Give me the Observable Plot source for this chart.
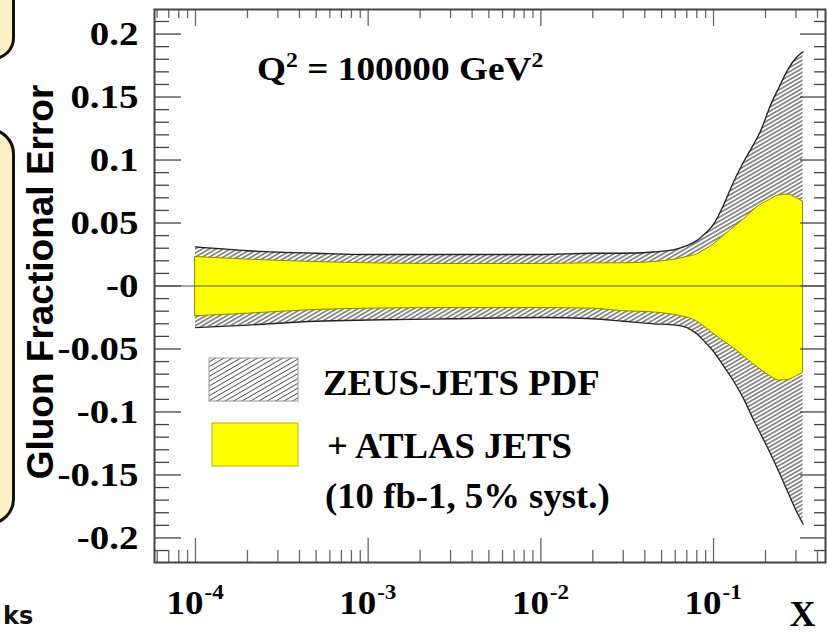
<!DOCTYPE html>
<html><head><meta charset="utf-8">
<script src="https://cdn.jsdelivr.net/npm/d3@7"></script>
<script src="https://cdn.jsdelivr.net/npm/@observablehq/plot@0.6"></script>
<style>
body{margin:0;background:#fff;}
#wrap{position:relative;width:827px;height:634px;overflow:hidden;background:#fff;}
.deco{position:absolute;background:#fcefc4;border:3px solid #111;box-sizing:border-box;}
#chart, #overlay{position:absolute;left:0;top:0;}
</style></head>
<body>
<svg width="0" height="0" style="position:absolute">
  <defs>
    <pattern id="hatch" patternUnits="userSpaceOnUse" width="8" height="3.5" patternTransform="rotate(-30)">
      <rect width="8" height="3.5" fill="#fff"/>
      <line x1="0" y1="1.75" x2="8" y2="1.75" stroke="#2a2a2a" stroke-width="1"/>
    </pattern>
    <pattern id="hatchLegend" patternUnits="userSpaceOnUse" width="8" height="4.2" patternTransform="rotate(-30)">
      <rect width="8" height="4.2" fill="#fff"/>
      <line x1="0" y1="2.1" x2="8" y2="2.1" stroke="#555" stroke-width="1"/>
    </pattern>
  </defs>
</svg>
<div id="wrap">
  <div class="deco" style="left:-30px;top:-30px;width:45px;height:90px;border-radius:0 0 22px 0;"></div>
  <div class="deco" style="left:-30px;top:128px;width:45px;height:397px;border-radius:0 26px 26px 0;"></div>
  <div id="chart"></div>
  <svg id="overlay" width="827" height="634"></svg>
</div>
<script>
// ---- data ----
const xGrid   = [1e-4, 2e-4, 5e-4, 1e-3, 3e-3, 1e-2, 0.02, 0.03, 0.045, 0.06, 0.07, 0.08, 0.09, 0.1, 0.115, 0.13, 0.15, 0.17, 0.19, 0.21, 0.24, 0.27, 0.3, 0.33];
const zeusHi  = [0.031, 0.028, 0.026, 0.025, 0.025, 0.025, 0.026, 0.026, 0.027, 0.029, 0.032, 0.036, 0.042, 0.049, 0.065, 0.082, 0.099, 0.112, 0.125, 0.141, 0.158, 0.172, 0.181, 0.186];
const zeusLo  = [-0.033, -0.031, -0.028, -0.027, -0.026, -0.025, -0.026, -0.028, -0.030, -0.031, -0.033, -0.038, -0.045, -0.052, -0.064, -0.075, -0.090, -0.106, -0.119, -0.131, -0.148, -0.164, -0.178, -0.189];
const atlasHi = [0.023, 0.021, 0.019, 0.018, 0.0175, 0.0175, 0.018, 0.018, 0.019, 0.021, 0.023, 0.025, 0.029, 0.033, 0.040, 0.046, 0.053, 0.060, 0.065, 0.068, 0.072, 0.0725, 0.070, 0.067];
const atlasLo = [-0.024, -0.022, -0.019, -0.018, -0.0175, -0.0175, -0.018, -0.020, -0.021, -0.023, -0.025, -0.028, -0.033, -0.038, -0.044, -0.049, -0.056, -0.062, -0.067, -0.071, -0.075, -0.0745, -0.072, -0.069];
const yTicks = [-0.2, -0.15, -0.1, -0.05, 0, 0.05, 0.1, 0.15, 0.2];
const yTickLabels = ["-0.2", "-0.15", "-0.1", "-0.05", "-0", "0.05", "0.1", "0.15", "0.2"];
const xTicks = [1e-4, 1e-3, 1e-2, 1e-1];
const xTickBase = ["10", "10", "10", "10"];
const xTickExponents = ["-4", "-3", "-2", "-1"];
const yLabel = "Gluon Fractional Error";
const xLabel = "X";
const legendLabels = ["ZEUS-JETS PDF", "+ ATLAS JETS", "(10 fb-1, 5% syst.)"];

// ---- layout ----
const W = 827, H = 634, mL = 154, mR = 2, mT = 9, mB = 72;
const fw = W - mL - mR, fh = H - mT - mB;
const xDomain = [5.79e-5, 0.445];
const yDomain = [-0.2195, 0.2195];

const rows = xGrid.map((x, i) => ({x, zh: zeusHi[i], zl: zeusLo[i], ah: atlasHi[i], al: atlasLo[i]}));
const yMinor = d3.range(-21, 22).filter(k => k % 5 !== 0).map(k => k / 100);
const xMinor = [];
for (let e = -5; e <= -1; e++) for (let m = 2; m <= 9; m++) {
  const v = m * Math.pow(10, e);
  if (v > xDomain[0] && v < xDomain[1]) xMinor.push(v);
}
const tickStroke = "#444";
const serif = "Liberation Serif, Times New Roman, serif";

const chart = Plot.plot({
  width: W, height: H,
  marginLeft: mL, marginRight: mR, marginTop: mT, marginBottom: mB,
  x: {type: "log", domain: xDomain, axis: null},
  y: {domain: yDomain, axis: null},
  style: {background: "transparent", overflow: "visible"},
  marks: [
    Plot.areaY(rows, {x: "x", y1: "zl", y2: "zh", fill: "url(#hatch)", curve: "monotone-x"}),
    Plot.lineY(rows, {x: "x", y: "zh", stroke: "#222", strokeWidth: 1.3, curve: "monotone-x"}),
    Plot.lineY(rows, {x: "x", y: "zl", stroke: "#222", strokeWidth: 1.3, curve: "monotone-x"}),
    Plot.areaY(rows, {x: "x", y1: "al", y2: "ah", fill: "#ffff00", stroke: "#8a8a00", strokeWidth: 1, curve: "monotone-x"}),
    Plot.ruleY([0], {stroke: "#555", strokeWidth: 1}),
    // left ticks
    Plot.tickY(yTicks, {y: d => d, insetRight: fw - 27, stroke: tickStroke, strokeWidth: 1.3}),
    Plot.tickY(yMinor, {y: d => d, insetRight: fw - 15, stroke: tickStroke, strokeWidth: 1.3}),
    // right ticks
    Plot.tickY(yTicks, {y: d => d, insetLeft: fw - 25, stroke: tickStroke, strokeWidth: 1.3}),
    Plot.tickY(yMinor, {y: d => d, insetLeft: fw - 11, stroke: tickStroke, strokeWidth: 1.3}),
    // bottom ticks
    Plot.tickX(xTicks, {x: d => d, insetTop: fh - 24, stroke: "#666", strokeWidth: 1.3}),
    Plot.tickX(xMinor, {x: d => d, insetTop: fh - 12, stroke: "#666", strokeWidth: 1.3}),
    // top ticks
    Plot.tickX(xTicks, {x: d => d, insetBottom: fh - 17, stroke: "#666", strokeWidth: 1.3}),
    Plot.tickX(xMinor, {x: d => d, insetBottom: fh - 9, stroke: "#666", strokeWidth: 1.3}),
    Plot.frame({stroke: "#444", strokeWidth: 2}),
    // tick labels
    Plot.text(yTicks, {y: d => d, text: (d, i) => yTickLabels[i], frameAnchor: "left", dx: -16, textAnchor: "end",
      lineAnchor: "middle", fontSize: 33, fontFamily: serif, fontWeight: "bold", fill: "#000", ariaDescription: "ylab"}),
    Plot.text(xTicks, {x: d => d, text: (d, i) => xTickBase[i], frameAnchor: "bottom", dx: 8, dy: 51, textAnchor: "end",
      lineAnchor: "bottom", fontSize: 33, fontFamily: serif, fontWeight: "bold", fill: "#000", ariaDescription: "xlab"}),
    Plot.text(xTicks, {x: d => d, text: (d, i) => xTickExponents[i], frameAnchor: "bottom", dx: 9, dy: 36, textAnchor: "start",
      lineAnchor: "bottom", fontSize: 21, fontFamily: serif, fontWeight: "bold", fill: "#000", ariaDescription: "xexp"}),
    Plot.text([xLabel], {frameAnchor: "bottom-right", dx: -10, dy: 63, textAnchor: "end", lineAnchor: "bottom",
      fontSize: 36, fontFamily: serif, fontWeight: "bold", fill: "#000"}),
    Plot.text([yLabel], {frameAnchor: "left", rotate: -90, dx: -102, dy: -4, textAnchor: "middle", lineAnchor: "bottom",
      fontSize: 37, fontFamily: "Liberation Sans, Arial, sans-serif", fontWeight: "bold", fill: "#000"})
  ]
});
document.getElementById("chart").appendChild(chart);

// horizontally widen serif tick labels to match the reference's broad glyphs
function widen(label, s) {
  d3.select(chart).selectAll(`g[aria-description="${label}"] text`).each(function() {
    const t = this.getAttribute("transform");
    if (t && t.includes("translate")) {
      this.setAttribute("transform", t + ` scale(${s},1)`);
    } else {
      const x = +(this.getAttribute("x") || 0), y = +(this.getAttribute("y") || 0);
      this.removeAttribute("x"); this.removeAttribute("y");
      this.setAttribute("transform", `translate(${x},${y}) scale(${s},1)`);
    }
  });
}
widen("ylab", 1.18);
widen("xlab", 1.12);
widen("xexp", 1.1);

// ---- overlay: annotation, legend, fragment text ----
const ov = d3.select("#overlay");
const q = ov.append("g").attr("transform", "translate(257,80) scale(1.13,1)")
  .append("text").attr("font-family", serif).attr("font-weight", "bold").attr("font-size", 33).attr("fill", "#000");
q.append("tspan").text("Q");
q.append("tspan").attr("dy", -13).attr("font-size", 21).text("2");
q.append("tspan").attr("dy", 13).text(" = 100000 GeV");
q.append("tspan").attr("dy", -13).attr("font-size", 21).text("2");

ov.append("rect").attr("x", 209).attr("y", 358).attr("width", 89).attr("height", 43)
  .attr("fill", "url(#hatchLegend)").attr("stroke", "#999").attr("stroke-width", 1);
ov.append("rect").attr("x", 212).attr("y", 423).attr("width", 86).attr("height", 43)
  .attr("fill", "#ffff00").attr("stroke", "#b4b400").attr("stroke-width", 1);
const legPos = [[323, 395], [327, 458], [325, 508]];
legendLabels.forEach((t, i) => {
  ov.append("g").attr("transform", `translate(${legPos[i][0]},${legPos[i][1]}) scale(1.05,1)`)
    .append("text").attr("font-family", serif).attr("font-weight", "bold").attr("font-size", 35)
    .attr("fill", "#000").text(t);
});
ov.append("text").attr("x", 3).attr("y", 624).attr("text-anchor", "start")
  .attr("font-family", "DejaVu Sans, sans-serif").attr("font-weight", "bold").attr("font-size", 24)
  .attr("fill", "#111").text("ks");
</script>
</body></html>
